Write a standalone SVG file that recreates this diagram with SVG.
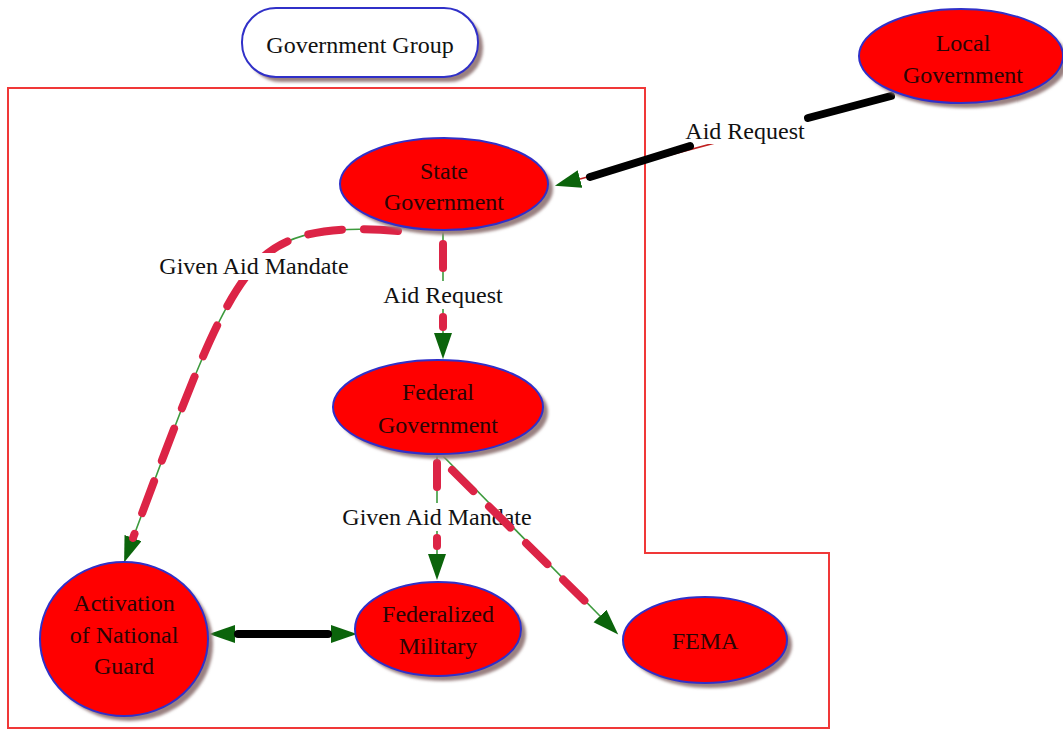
<svg xmlns="http://www.w3.org/2000/svg" width="1063" height="731" viewBox="0 0 1063 731">
<style>
.nt{fill:#2a0505}
.lb{fill:#111}
.node{fill:#ff0000;stroke:#3030c8;stroke-width:2}
.shadow{fill:#9a8080;filter:url(#blur)}
.thin{fill:none;stroke:#3d9a3d;stroke-width:1.6}
.dash{fill:none;stroke:#dc2446;stroke-width:8;stroke-linecap:round}
.black{fill:none;stroke:#000;stroke-width:8;stroke-linecap:round}
.lbg{fill:#fff}
</style>
<defs>
<filter id="blur" x="-20%" y="-20%" width="140%" height="140%"><feGaussianBlur stdDeviation="1.5"/></filter>
<marker id="arr" markerUnits="userSpaceOnUse" markerWidth="28" markerHeight="20" refX="0" refY="9" orient="auto-start-reverse" viewBox="0 0 28 20">
<path d="M0,0 L26,9 L0,18 z" fill="#0b640b"/>
</marker>
</defs>
<rect width="1063" height="731" fill="#fff"/>

<g id="group-boundary">
<path d="M8,88 L645,88 L645,553 L829,553 L829,728 L8,728 Z" fill="none" stroke="#f03838" stroke-width="2"/>
</g>

<g id="government-group">
<rect x="247" y="13" width="236" height="69" rx="34" fill="#9a8080" filter="url(#blur)"/>
<rect x="242" y="8" width="236" height="69" rx="34" fill="#fff" stroke="#3030c8" stroke-width="2"/>
<text x="360" y="53" class="lb" font-family="Liberation Serif" font-size="24" text-anchor="middle">Government Group</text>
</g>

<g id="connectors">
<!-- Local -> State -->
<path d="M891,96 L580,179" fill="none" stroke="#c02020" stroke-width="1.6" marker-end="url(#arr)"/>
<rect class="lbg" x="684" y="116" width="122" height="28"/>
<line class="black" x1="891" y1="96" x2="808" y2="118"/>
<line class="black" x1="690" y1="146" x2="590" y2="177"/>
<text x="745" y="139" class="lb" font-family="Liberation Serif" font-size="24" text-anchor="middle">Aid Request</text>

<!-- State -> Activation -->
<path class="thin" d="M398,231 C340,226 292,230 262,258 C228,292 205,350 182,408 C165,452 145,505 133,538" marker-end="url(#arr)"/>
<path class="dash" d="M398,231 C340,226 292,230 262,258 C228,292 205,350 182,408 C165,452 145,505 133,538" stroke-dasharray="34 22"/>
<rect class="lbg" x="156" y="253" width="196" height="27"/>
<text x="254" y="274" class="lb" font-family="Liberation Serif" font-size="24" text-anchor="middle">Given Aid Mandate</text>

<!-- State -> Federal -->
<line class="thin" x1="443" y1="232" x2="443" y2="333" marker-end="url(#arr)"/>
<line class="dash" x1="443" y1="244" x2="443" y2="268"/>
<rect class="lbg" x="382" y="281" width="122" height="28"/>
<line class="dash" x1="443" y1="317" x2="443" y2="327"/>
<text x="443" y="303" class="lb" font-family="Liberation Serif" font-size="24" text-anchor="middle">Aid Request</text>

<!-- Federal -> Federalized Military -->
<line class="thin" x1="437" y1="455" x2="437" y2="554" marker-end="url(#arr)"/>
<line class="dash" x1="437" y1="463" x2="437" y2="487"/>
<rect class="lbg" x="340" y="503" width="194" height="28"/>
<line class="dash" x1="437" y1="538" x2="437" y2="546"/>
<text x="437" y="525" class="lb" font-family="Liberation Serif" font-size="24" text-anchor="middle">Given Aid Mandate</text>

<!-- Federal -> FEMA -->
<line class="thin" x1="443" y1="456" x2="600" y2="616" marker-end="url(#arr)"/>
<line class="dash" x1="452" y1="470" x2="598" y2="614" stroke-dasharray="30 22"/>

<!-- Activation <-> Federalized Military -->
<line x1="235" y1="634" x2="331" y2="634" stroke="#000" stroke-width="1" marker-start="url(#arr)" marker-end="url(#arr)"/>
<line class="black" x1="238" y1="634" x2="328" y2="634"/>
</g>

<g id="local-government">
<ellipse class="shadow" cx="966" cy="61" rx="102" ry="47"/>
<ellipse class="node" cx="961" cy="56" rx="102" ry="47"/>
<text x="963" y="51" class="nt" font-family="Liberation Serif" font-size="24" text-anchor="middle">Local</text>
<text x="963" y="83" class="nt" font-family="Liberation Serif" font-size="24" text-anchor="middle">Government</text>
</g>

<g id="state-government">
<ellipse class="shadow" cx="449" cy="189" rx="104" ry="46"/>
<ellipse class="node" cx="444" cy="184" rx="104" ry="46"/>
<text x="444" y="179" class="nt" font-family="Liberation Serif" font-size="24" text-anchor="middle">State</text>
<text x="444" y="210" class="nt" font-family="Liberation Serif" font-size="24" text-anchor="middle">Government</text>
</g>

<g id="federal-government">
<ellipse class="shadow" cx="443" cy="412" rx="105" ry="47"/>
<ellipse class="node" cx="438" cy="407" rx="105" ry="47"/>
<text x="438" y="400" class="nt" font-family="Liberation Serif" font-size="24" text-anchor="middle">Federal</text>
<text x="438" y="433" class="nt" font-family="Liberation Serif" font-size="24" text-anchor="middle">Government</text>
</g>

<g id="activation-national-guard">
<ellipse class="shadow" cx="129" cy="644" rx="84" ry="77"/>
<ellipse class="node" cx="124" cy="639" rx="84" ry="77"/>
<text x="124" y="611" class="nt" font-family="Liberation Serif" font-size="24" text-anchor="middle">Activation</text>
<text x="124" y="643" class="nt" font-family="Liberation Serif" font-size="24" text-anchor="middle">of National</text>
<text x="124" y="674" class="nt" font-family="Liberation Serif" font-size="24" text-anchor="middle">Guard</text>
</g>

<g id="federalized-military">
<ellipse class="shadow" cx="443" cy="634" rx="83" ry="47"/>
<ellipse class="node" cx="438" cy="629" rx="83" ry="47"/>
<text x="438" y="622" class="nt" font-family="Liberation Serif" font-size="24" text-anchor="middle">Federalized</text>
<text x="438" y="654" class="nt" font-family="Liberation Serif" font-size="24" text-anchor="middle">Military</text>
</g>

<g id="fema">
<ellipse class="shadow" cx="710" cy="645" rx="82" ry="43"/>
<ellipse class="node" cx="705" cy="640" rx="82" ry="43"/>
<text x="705" y="649" class="nt" font-family="Liberation Serif" font-size="24" text-anchor="middle">FEMA</text>
</g>
</svg>
